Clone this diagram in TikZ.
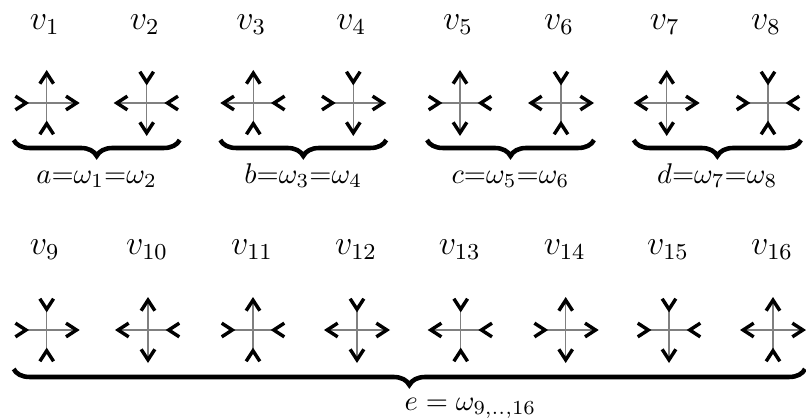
\documentclass[tikz,border=0pt]{standalone}
\usepackage{amsmath}
\usepackage{tikz}
\usetikzlibrary{arrows.meta, decorations.pathreplacing}

\tikzset{
  arm/.style={draw=gray, line width=0.4pt},
  armout/.style={arm, -{Straight Barb[color=black, line width=1.2pt, length=3.7pt, width=4.8pt]}},
  armin/.style={arm, -{Straight Barb[color=black, line width=1.2pt, length=3.7pt, width=4.8pt, reversed]}},
  vlabel/.style={font=\large, anchor=base},
  bracelabel/.style={anchor=base},
  groupbrace/.style={decorate, decoration={brace, mirror, amplitude=5.6pt}, line width=1.6pt}
}

% one vertex: name, x, y, left, right, up, down (in/out)
\newcommand{\vconf}[7]{%
  \coordinate (#1) at (#2,#3);
  \coordinate (#1-l) at (#2-33,#3);
  \coordinate (#1-r) at (#2+33,#3);
  \coordinate (#1-u) at (#2,#3+33);
  \coordinate (#1-d) at (#2,#3-33);
  \draw[arm#4] (#1) -- (#1-l);
  \draw[arm#5] (#1) -- (#1-r);
  \draw[arm#6] (#1) -- (#1-u);
  \draw[arm#7] (#1) -- (#1-d);
}

\begin{document}
\begin{tikzpicture}[x=0.1233mm, y=0.1233mm]
		\useasboundingbox (0,0) rectangle (806,418);
		% Draw top row
		\vconf{v1}{46.7}{315}{in}{out}{out}{in}
		\vconf{v2}{146.7}{315}{out}{in}{in}{out}
		\vconf{v3}{253.3}{315}{out}{in}{out}{in}
		\vconf{v4}{353.3}{315}{in}{out}{in}{out}
		\vconf{v5}{460}{315}{in}{in}{out}{out}
		\vconf{v6}{561}{315}{out}{out}{in}{in}
		\vconf{v7}{666.7}{315}{out}{out}{out}{out}
		\vconf{v8}{768}{315}{in}{in}{in}{in}
		% Draw bottom row
		\vconf{v9}{46.7}{88}{in}{out}{in}{in}
		\vconf{v10}{148}{88}{out}{in}{out}{out}
		\vconf{v11}{253}{88}{in}{in}{out}{in}
		\vconf{v12}{357}{88}{out}{out}{in}{out}
		\vconf{v13}{460.7}{88}{out}{in}{in}{in}
		\vconf{v14}{565.7}{88}{in}{out}{out}{out}
		\vconf{v15}{669}{88}{in}{in}{in}{out}
		\vconf{v16}{773}{88}{out}{out}{out}{in}
		% Vertex labels
		\node[vlabel] (l1) at (44.7,388.5) {$v_1$};
		\node[vlabel] (l2) at (144.7,388.5) {$v_2$};
		\node[vlabel] (l3) at (251.3,388.5) {$v_3$};
		\node[vlabel] (l4) at (351.3,388.5) {$v_4$};
		\node[vlabel] (l5) at (458,388.5) {$v_5$};
		\node[vlabel] (l6) at (559,388.5) {$v_6$};
		\node[vlabel] (l7) at (664.7,388.5) {$v_7$};
		\node[vlabel] (l8) at (766,388.5) {$v_8$};
		\node[vlabel] (l9) at (44.7,164) {$v_9$};
		\node[vlabel] (l10) at (147,164) {$v_{10}$};
		\node[vlabel] (l11) at (252,164) {$v_{11}$};
		\node[vlabel] (l12) at (356,164) {$v_{12}$};
		\node[vlabel] (l13) at (459.7,164) {$v_{13}$};
		\node[vlabel] (l14) at (564.7,164) {$v_{14}$};
		\node[vlabel] (l15) at (668,164) {$v_{15}$};
		\node[vlabel] (l16) at (772,164) {$v_{16}$};
		% Braces
		\coordinate (ba) at (13.7,278);  \coordinate (ea) at (179.7,278);
		\coordinate (bb) at (220.3,278); \coordinate (eb) at (386.3,278);
		\coordinate (bc) at (427,278);   \coordinate (ec) at (594,278);
		\coordinate (bd) at (633.7,278); \coordinate (ed) at (801,278);
		\coordinate (be) at (13.7,49);   \coordinate (ee) at (805,49);
		\draw[groupbrace] (ba) -- (ea);
		\draw[groupbrace] (bb) -- (eb);
		\draw[groupbrace] (bc) -- (ec);
		\draw[groupbrace] (bd) -- (ed);
		\draw[groupbrace] (be) -- (ee);
		% Weights
		\node[bracelabel] (wa) at (96.7,235) {$a{=}\omega_1{=}\omega_2$};
		\node[bracelabel] (wb) at (303.3,235) {$b{=}\omega_3{=}\omega_4$};
		\node[bracelabel] (wc) at (510.5,235) {$c{=}\omega_5{=}\omega_6$};
		\node[bracelabel] (wd) at (717.3,235) {$d{=}\omega_7{=}\omega_8$};
		\node[bracelabel, anchor=base west, inner sep=0pt] (we) at (404,8) {$e = \omega_{9,..,16}$};
	\end{tikzpicture}
\end{document}
